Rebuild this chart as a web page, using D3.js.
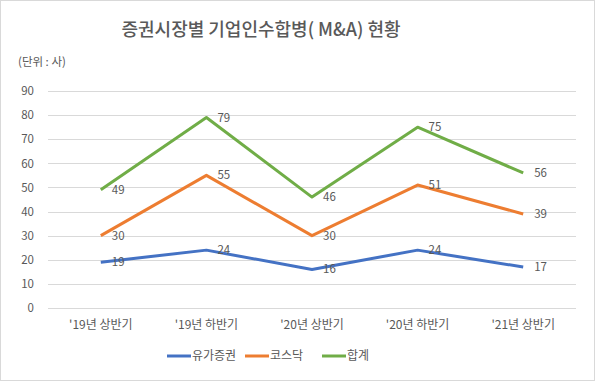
<!DOCTYPE html>
<html>
<head>
<meta charset="utf-8">
<script src="https://cdn.jsdelivr.net/npm/d3@7"></script>
<style>
  body { margin: 0; background: #fff; }
  text { font-family: "Noto Sans CJK KR", "Noto Sans", sans-serif; fill: #595959; }
</style>
</head>
<body>
<div id="chart"></div>
<script>
var categories = ["'19년 상반기", "'19년 하반기", "'20년 상반기", "'20년 하반기", "'21년 상반기"];
var seriesNames = ["유가증권", "코스닥", "합계"];
var kospi = [19, 24, 16, 24, 17];
var kosdaq = [30, 55, 30, 51, 39];
var total = [49, 79, 46, 75, 56];
var yTicks = [0, 10, 20, 30, 40, 50, 60, 70, 80, 90];
var colors = ["#4472C4", "#ED7D31", "#70AD47"];

var width = 595, height = 381;

var svg = d3.select("#chart").append("svg")
  .attr("width", width)
  .attr("height", height);

svg.append("rect")
  .attr("x", 0.5).attr("y", 0.5)
  .attr("width", width - 1).attr("height", height - 1)
  .attr("fill", "#fff")
  .attr("stroke", "#d9d9d9");

var x = d3.scaleBand().domain(categories).range([48, 576]);
var y = d3.scaleLinear().domain([0, 90]).range([308, 91]);

// title
svg.append("text")
  .attr("x", 261).attr("y", 36)
  .attr("text-anchor", "middle")
  .attr("font-size", 18)
  .attr("font-weight", 500)
  .text("증권시장별 기업인수합병( M&A) 현황");

svg.append("text")
  .attr("x", 18).attr("y", 66)
  .attr("font-size", 11.5)
  .text("(단위 : 사)");

// gridlines
svg.append("g").selectAll("line")
  .data(yTicks)
  .enter().append("line")
  .attr("x1", 48).attr("x2", 576)
  .attr("y1", function(d) { return Math.round(y(d)) + 0.5; })
  .attr("y2", function(d) { return Math.round(y(d)) + 0.5; })
  .attr("stroke", "#d9d9d9");

// y axis labels
var yAxis = svg.append("g")
  .attr("transform", "translate(40,0)")
  .call(d3.axisLeft(y).tickValues(yTicks).tickSize(0).tickPadding(6));
yAxis.select(".domain").remove();
yAxis.selectAll("text").attr("font-size", 11.5).attr("font-family", null).attr("fill", "#595959");

// x axis labels
var xAxis = svg.append("g")
  .attr("transform", "translate(0,316)")
  .call(d3.axisBottom(x).tickSize(0).tickPadding(4));
xAxis.select(".domain").remove();
xAxis.selectAll("text").attr("font-size", 12).attr("font-family", null).attr("fill", "#595959");

var allSeries = [kospi, kosdaq, total];

var line = d3.line()
  .x(function(d, i) { return x(categories[i]) + x.bandwidth() / 2; })
  .y(function(d) { return y(d); });

allSeries.forEach(function(vals, s) {
  svg.append("path")
    .datum(vals)
    .attr("fill", "none")
    .attr("stroke", colors[s])
    .attr("stroke-width", 3)
    .attr("stroke-linejoin", "round")
    .attr("d", line);

  svg.append("g").selectAll("text")
    .data(vals)
    .enter().append("text")
    .attr("x", function(d, i) { return x(categories[i]) + x.bandwidth() / 2 + 11; })
    .attr("y", function(d) { return y(d); })
    .attr("dy", "0.35em")
    .attr("font-size", 11.5)
    .attr("fill", "#404040")
    .text(function(d) { return d; });
});

// legend
var legend = svg.append("g").attr("transform", "translate(0,356)");
var legX = [167, 245, 322];
seriesNames.forEach(function(name, i) {
  legend.append("line")
    .attr("x1", legX[i]).attr("x2", legX[i] + 24)
    .attr("stroke", colors[i])
    .attr("stroke-width", 3);
  legend.append("text")
    .attr("x", legX[i] + 25).attr("y", 0)
    .attr("dy", "0.35em")
    .attr("font-size", 12)
    .text(name);
});
</script>
</body>
</html>
